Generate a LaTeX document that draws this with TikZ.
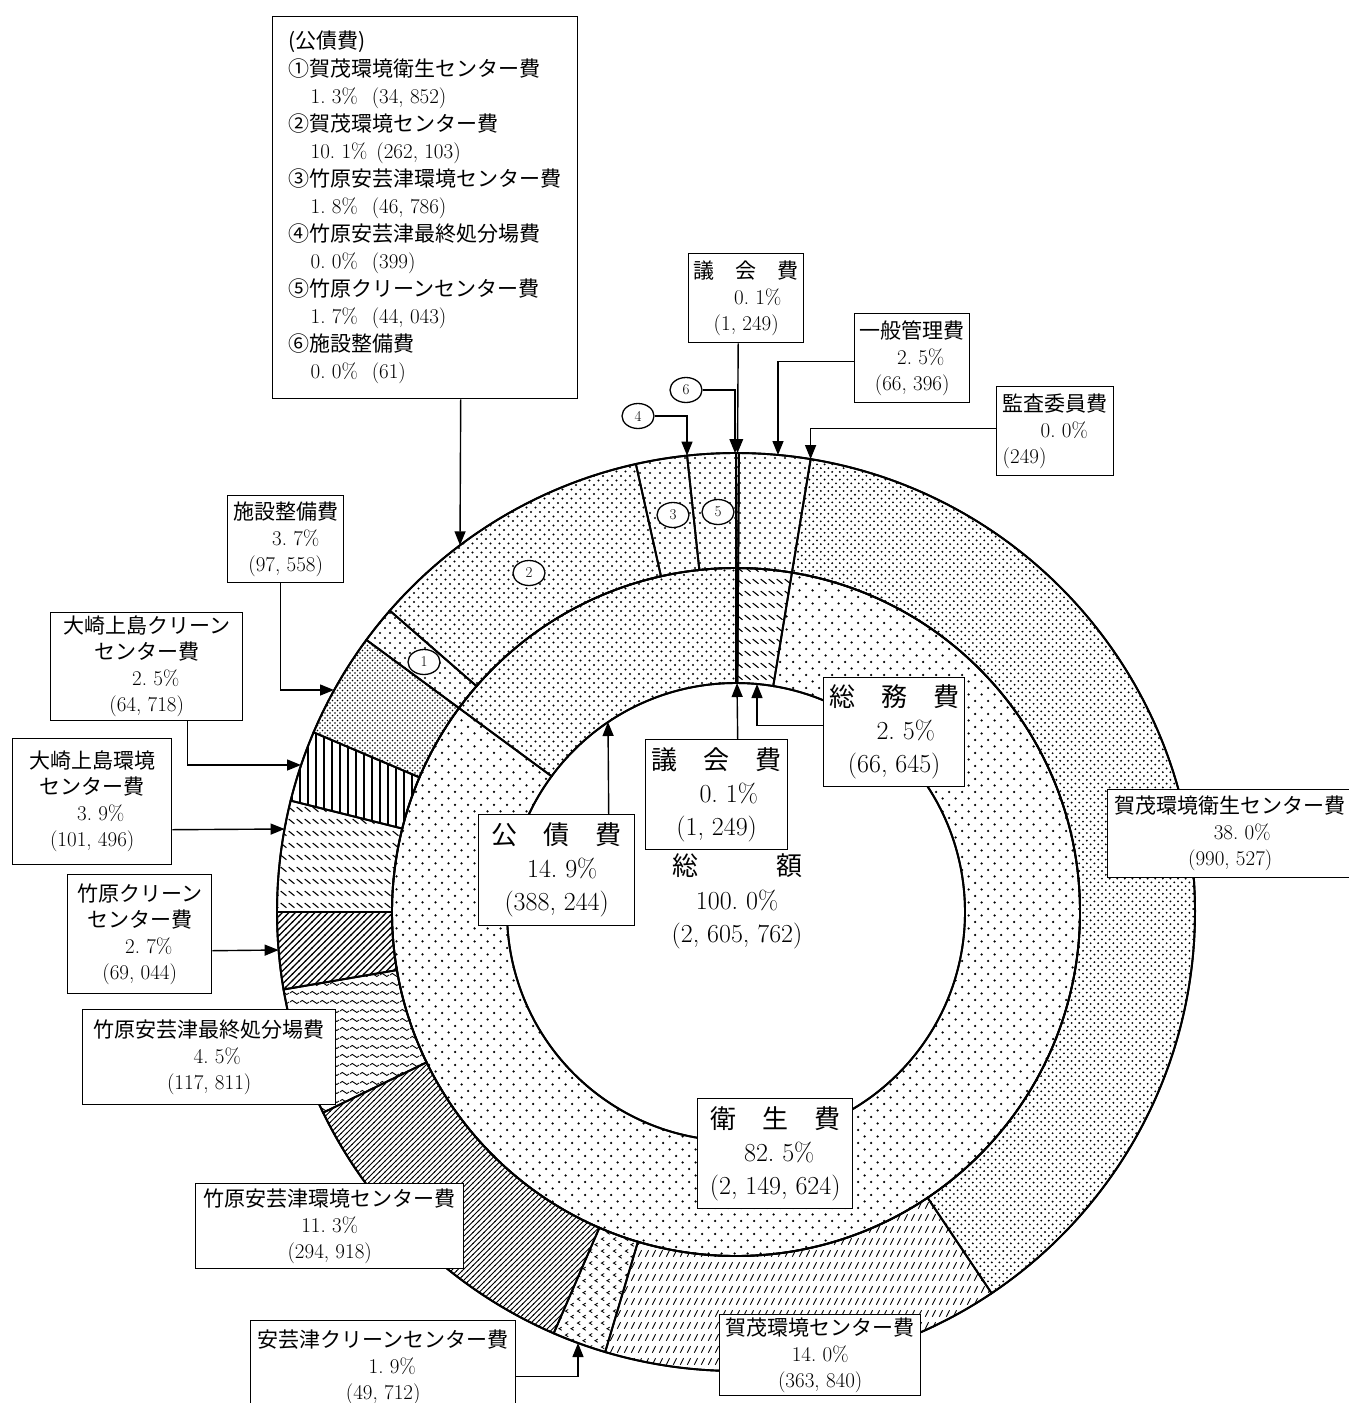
\documentclass[tikz,border=0pt]{standalone}
\usepackage{fontspec}
\newfontfamily\jp{Noto Sans CJK JP}
\usetikzlibrary{patterns,arrows.meta,shapes.geometric}
\frenchspacing
% ---------- patterns ----------
\pgfdeclarepatternformonly{pdotsS}{\pgfqpoint{-1.5pt}{-1.5pt}}{\pgfqpoint{8pt}{8pt}}{\pgfqpoint{13pt}{13pt}}{%
  \pgfpathcircle{\pgfqpoint{0pt}{0pt}}{1.25pt}\pgfpathcircle{\pgfqpoint{6.5pt}{6.5pt}}{1.25pt}\pgfusepath{fill}}
\pgfdeclarepatternformonly{pdotsM}{\pgfqpoint{-1.5pt}{-1.5pt}}{\pgfqpoint{6.5pt}{6.5pt}}{\pgfqpoint{10pt}{10pt}}{%
  \pgfpathcircle{\pgfqpoint{0pt}{0pt}}{1.2pt}\pgfpathcircle{\pgfqpoint{5pt}{5pt}}{1.2pt}\pgfusepath{fill}}
\pgfdeclarepatternformonly{pdotsD}{\pgfqpoint{-1.5pt}{-1.5pt}}{\pgfqpoint{6.2pt}{6.2pt}}{\pgfqpoint{9pt}{9pt}}{%
  \pgfpathcircle{\pgfqpoint{0pt}{0pt}}{1.15pt}\pgfpathcircle{\pgfqpoint{4.5pt}{4.5pt}}{1.15pt}\pgfusepath{fill}}
\pgfdeclarepatternformonly{pdotsK}{\pgfqpoint{-1.2pt}{-1.2pt}}{\pgfqpoint{5pt}{5pt}}{\pgfqpoint{7.6pt}{7.6pt}}{%
  \pgfpathcircle{\pgfqpoint{0pt}{0pt}}{1.05pt}\pgfpathcircle{\pgfqpoint{3.8pt}{3.8pt}}{1.05pt}\pgfusepath{fill}}
\pgfdeclarepatternformonly{pdotsF}{\pgfqpoint{-1pt}{-1pt}}{\pgfqpoint{3.5pt}{3.5pt}}{\pgfqpoint{5pt}{5pt}}{%
  \pgfpathcircle{\pgfqpoint{0pt}{0pt}}{0.8pt}\pgfpathcircle{\pgfqpoint{2.5pt}{2.5pt}}{0.8pt}\pgfusepath{fill}}
\pgfdeclarepatternformonly{pbsl}{\pgfqpoint{0pt}{0pt}}{\pgfqpoint{8pt}{12pt}}{\pgfqpoint{8pt}{12pt}}{%
  \pgfsetlinewidth{1.2pt}\pgfpathmoveto{\pgfqpoint{0.8pt}{8.5pt}}\pgfpathlineto{\pgfqpoint{7.2pt}{3.5pt}}\pgfusepath{stroke}}
\pgfdeclarepatternformonly{pfsl}{\pgfqpoint{0pt}{0pt}}{\pgfqpoint{7pt}{12pt}}{\pgfqpoint{7pt}{12pt}}{%
  \pgfsetlinewidth{1pt}\pgfpathmoveto{\pgfqpoint{1.5pt}{2.5pt}}\pgfpathlineto{\pgfqpoint{5.2pt}{9.5pt}}\pgfusepath{stroke}}
\pgfdeclarepatternformonly{pchev}{\pgfqpoint{0pt}{0pt}}{\pgfqpoint{12pt}{12pt}}{\pgfqpoint{12pt}{12pt}}{%
  \pgfsetlinewidth{0.9pt}%
  \pgfpathmoveto{\pgfqpoint{4.5pt}{10.2pt}}\pgfpathlineto{\pgfqpoint{1.5pt}{8.5pt}}\pgfpathlineto{\pgfqpoint{4.5pt}{6.8pt}}%
  \pgfpathmoveto{\pgfqpoint{10.5pt}{4.2pt}}\pgfpathlineto{\pgfqpoint{7.5pt}{2.5pt}}\pgfpathlineto{\pgfqpoint{10.5pt}{0.8pt}}%
  \pgfusepath{stroke}}
\pgfdeclarepatternformonly{pnel}{\pgfqpoint{-1pt}{-1pt}}{\pgfqpoint{6.5pt}{6.5pt}}{\pgfqpoint{5.5pt}{5.5pt}}{%
  \pgfsetlinewidth{0.85pt}\pgfpathmoveto{\pgfqpoint{-0.5pt}{-0.5pt}}\pgfpathlineto{\pgfqpoint{6pt}{6pt}}\pgfusepath{stroke}}
\pgfdeclarepatternformonly{pnelB}{\pgfqpoint{-1pt}{-1pt}}{\pgfqpoint{7.5pt}{7.5pt}}{\pgfqpoint{6.5pt}{6.5pt}}{%
  \pgfsetlinewidth{1.15pt}\pgfpathmoveto{\pgfqpoint{-0.5pt}{-0.5pt}}\pgfpathlineto{\pgfqpoint{7pt}{7pt}}\pgfusepath{stroke}}
\pgfdeclarepatternformonly{pvl}{\pgfqpoint{0pt}{-1pt}}{\pgfqpoint{8pt}{9pt}}{\pgfqpoint{8pt}{8pt}}{%
  \pgfsetlinewidth{1.25pt}\pgfpathmoveto{\pgfqpoint{4pt}{-1pt}}\pgfpathlineto{\pgfqpoint{4pt}{9pt}}\pgfusepath{stroke}}
\pgfdeclarepatternformonly{pwave}{\pgfqpoint{0pt}{0pt}}{\pgfqpoint{10pt}{8.5pt}}{\pgfqpoint{10pt}{8.5pt}}{%
  \pgfsetlinewidth{0.9pt}\pgfpathmoveto{\pgfqpoint{0pt}{4.25pt}}%
  \pgfpathcurveto{\pgfqpoint{1.7pt}{6.4pt}}{\pgfqpoint{3.3pt}{6.4pt}}{\pgfqpoint{5pt}{4.25pt}}%
  \pgfpathcurveto{\pgfqpoint{6.7pt}{2.1pt}}{\pgfqpoint{8.3pt}{2.1pt}}{\pgfqpoint{10pt}{4.25pt}}%
  \pgfusepath{stroke}}
% ---------- ring segment: start %, end %, inner r, outer r, pattern ----------
\newcommand\seg[5]{%
  \pgfmathsetmacro\segA{-90+3.6*#1}%
  \pgfmathsetmacro\segB{-90+3.6*#2}%
  \path[ring,pattern=#5] (\segA:#3) -- (\segA:#4)
    arc[start angle=\segA,end angle=\segB,radius=#4] -- (\segB:#3)
    arc[start angle=\segB,end angle=\segA,radius=#3] -- cycle;}
\tikzset{
  ring/.style={draw=black,line width=1.9pt},
  box/.style={draw=black,line width=1.4pt,fill=white,inner sep=0pt,align=center,anchor=north west},
  sbox/.style={box,font=\fontsize{21pt}{26pt}\selectfont},
  bbox/.style={box,font=\fontsize{26pt}{33pt}\selectfont},
  arr/.style={line width=1.4pt,-{Triangle[width=11pt,length=14pt]}},
  cmark/.style={ellipse,draw=black,line width=1.3pt,fill=white,minimum width=32pt,minimum height=25pt,inner sep=0pt,font=\fontsize{15pt}{15pt}\selectfont},
}
\begin{document}
\begin{tikzpicture}[x=1pt,y=-1pt]
\fill[white] (0,0) rectangle (1349,1403);
\useasboundingbox (0,0) rectangle (1349,1403);

% ---------- rings ----------
\begin{scope}[shift={(736,912)}]
\seg{0}{0.1}{344}{459}{pdotsD}
\seg{0.1}{2.6}{344}{459}{pdotsM}
\seg{2.6}{40.6}{344}{459}{pdotsK}
\seg{40.6}{54.6}{344}{459}{pfsl}
\seg{54.6}{56.5}{344}{459}{pchev}
\seg{56.5}{67.8}{344}{459}{pnel}
\seg{67.8}{72.3}{344}{459}{pwave}
\seg{72.3}{75}{344}{459}{pnelB}
\seg{75}{78.9}{344}{459}{pbsl}
\seg{78.9}{81.4}{344}{459}{pvl}
\seg{81.4}{85.1}{344}{459}{pdotsF}
\seg{85.1}{86.4}{344}{459}{pdotsM}
\seg{86.4}{96.5}{344}{459}{pdotsD}
\seg{96.5}{98.3}{344}{459}{pdotsM}
\seg{98.3}{100}{344}{459}{pdotsM}
\seg{0}{0.1}{229}{344}{pdotsD}
\seg{0.1}{2.6}{229}{344}{pbsl}
\seg{2.6}{85.1}{229}{344}{pdotsS}
\seg{85.1}{100}{229}{344}{pdotsD}
\draw[ring] (0,0) circle[radius=459];
\draw[ring] (0,0) circle[radius=344];
\draw[ring] (0,0) circle[radius=229];
\end{scope}

% ---------- ring markers ----------
\node[cmark] (m1) at (424,662) {1};
\node[cmark] (m2) at (529,573) {2};
\node[cmark] (m3) at (673,515) {3};
\node[cmark] (m5) at (718,512) {5};
\node[cmark] (m4) at (638,416) {4};
\node[cmark] (m6) at (686,390) {6};

% ---------- arrow targets on the rings ----------
\coordinate (pG) at (737.5,453.1);
\coordinate (p6) at (735,453.1);
\coordinate (p4) at (687,455.6);
\coordinate (pIp) at (778,455);
\coordinate (pKa) at (810.6,459.1);
\coordinate (pK) at (460,545.3);
\coordinate (pS) at (334,690);
\coordinate (pOC) at (301,765);
\coordinate (pOK) at (284.6,829);
\coordinate (pTC) at (278.6,950);
\coordinate (pAC) at (578,1343);
\coordinate (pSo) at (757,684);
\coordinate (pGi) at (737,683);
\coordinate (pKi) at (608,722);

% ---------- label boxes ----------
\node[sbox,font=\fontsize{21pt}{27.5pt}\selectfont,align=left,minimum width=305pt,minimum height=382pt] (kosaiL) at (272,16) {%
{\jp (公債費)}\\
{\jp ①賀茂環境衛生センター費}\\
\hspace*{22pt}1. 3\%\hspace{14pt}(34, 852)\\
{\jp ②賀茂環境センター費}\\
\hspace*{22pt}10. 1\%\hspace{9pt}(262, 103)\\
{\jp ③竹原安芸津環境センター費}\\
\hspace*{22pt}1. 8\%\hspace{14pt}(46, 786)\\
{\jp ④竹原安芸津最終処分場費}\\
\hspace*{22pt}0. 0\%\hspace{14pt}(399)\\
{\jp ⑤竹原クリーンセンター費}\\
\hspace*{22pt}1. 7\%\hspace{14pt}(44, 043)\\
{\jp ⑥施設整備費}\\
\hspace*{22pt}0. 0\%\hspace{14pt}(61)};

\node[sbox,minimum width=115pt,minimum height=89pt] (gikaiT) at (688,253) {{\jp 議　会　費}\\\hspace*{23pt}0. 1\%\\(1, 249)};
\node[sbox,minimum width=115pt,minimum height=89pt] (ippan) at (854,313) {{\jp 一般管理費}\\\hspace*{17pt}2. 5\%\\(66, 396)};
\node[sbox,align=left,minimum width=117pt,minimum height=89pt] (kansa) at (996,386) {{\jp 監査委員費}\\\hspace*{38pt}0. 0\%\\(249)};
\node[sbox,minimum width=116pt,minimum height=87pt] (shisetsu) at (227,495) {{\jp 施設整備費}\\\hspace*{20pt}3. 7\%\\(97, 558)};
\node[sbox,minimum width=192pt,minimum height=108pt] (osakiC) at (50,612) {{\jp 大崎上島クリーン}\\{\jp センター費}\\\hspace*{18pt}2. 5\%\\(64, 718)};
\node[sbox,minimum width=159pt,minimum height=126pt] (osakiK) at (12,738) {{\jp 大崎上島環境}\\{\jp センター費}\\\hspace*{17pt}3. 9\%\\(101, 496)};
\node[sbox,minimum width=144pt,minimum height=119pt] (takeC) at (67,874) {{\jp 竹原クリーン}\\{\jp センター費}\\\hspace*{18pt}2. 7\%\\(69, 044)};
\node[sbox,minimum width=253pt,minimum height=95pt] (takeS) at (82,1009) {{\jp 竹原安芸津最終処分場費}\\\hspace*{16pt}4. 5\%\\(117, 811)};
\node[sbox,minimum width=268pt,minimum height=85pt] (takeK) at (195,1183) {{\jp 竹原安芸津環境センター費}\\11. 3\%\\(294, 918)};
\node[sbox,minimum width=265pt,minimum height=94pt] (akitsu) at (250,1320) {{\jp 安芸津クリーンセンター費}\\\hspace*{18pt}1. 9\%\\(49, 712)};
\node[sbox,minimum width=201pt,minimum height=81pt] (kamoK) at (719,1314) {{\jp 賀茂環境センター費}\\14. 0\%\\(363, 840)};
\node[sbox,minimum width=245pt,minimum height=88pt] (kamoE) at (1107,789) {{\jp 賀茂環境衛生センター費}\\\hspace*{24pt}38. 0\%\\(990, 527)};

\node[bbox,minimum width=142pt,minimum height=110pt] (gikaiI) at (645,739) {{\jp 議　会　費}\\\hspace*{24pt}0. 1\%\\(1, 249)};
\node[bbox,minimum width=141pt,minimum height=109pt] (somu) at (823,677) {{\jp 総　務　費}\\\hspace*{23pt}2. 5\%\\(66, 645)};
\node[bbox,minimum width=156pt,minimum height=111pt] (kosaiI) at (478,814) {{\jp 公　債　費}\\\hspace*{11pt}14. 9\%\\(388, 244)};
\node[bbox,minimum width=155pt,minimum height=110pt] (eisei) at (697,1098) {{\jp 衛　生　費}\\\hspace*{8pt}82. 5\%\\(2, 149, 624)};
\node[align=center,inner sep=0pt,font=\fontsize{26pt}{33.5pt}\selectfont] (total) at (737,901.5) {{\jp 総　　　額}\\100. 0\%\\(2, 605, 762)};

% ---------- connectors ----------
\draw[arr] ([xshift=35.5pt]kosaiL.south) -- (pK);
\draw[arr] ([xshift=-8pt]gikaiT.south) -- (pG);
\draw[arr] ([yshift=-3.5pt]ippan.west) -| (pIp);
\draw[arr] ([yshift=2.5pt]kansa.west) -| (pKa);
\draw[arr] (m6.east) -| (p6);
\draw[arr] (m4.east) -| (p4);
\draw[arr] ([xshift=-5pt]shisetsu.south) |- (pS);
\draw[arr] ([xshift=41pt]osakiC.south) |- (pOC);
\draw[arr] ([yshift=-28pt]osakiK.east) -- (pOK);
\draw[arr] ([yshift=-16.5pt]takeC.east) -- (pTC);
\draw[arr] ([yshift=-9pt]akitsu.east) -| (pAC);
\draw[arr] ([yshift=6.5pt]somu.west) -| (pSo);
\draw[arr] ([xshift=21pt]gikaiI.north) -- (pGi);
\draw[arr] ([xshift=52pt]kosaiI.north) -- (pKi);
\end{tikzpicture}
\end{document}
